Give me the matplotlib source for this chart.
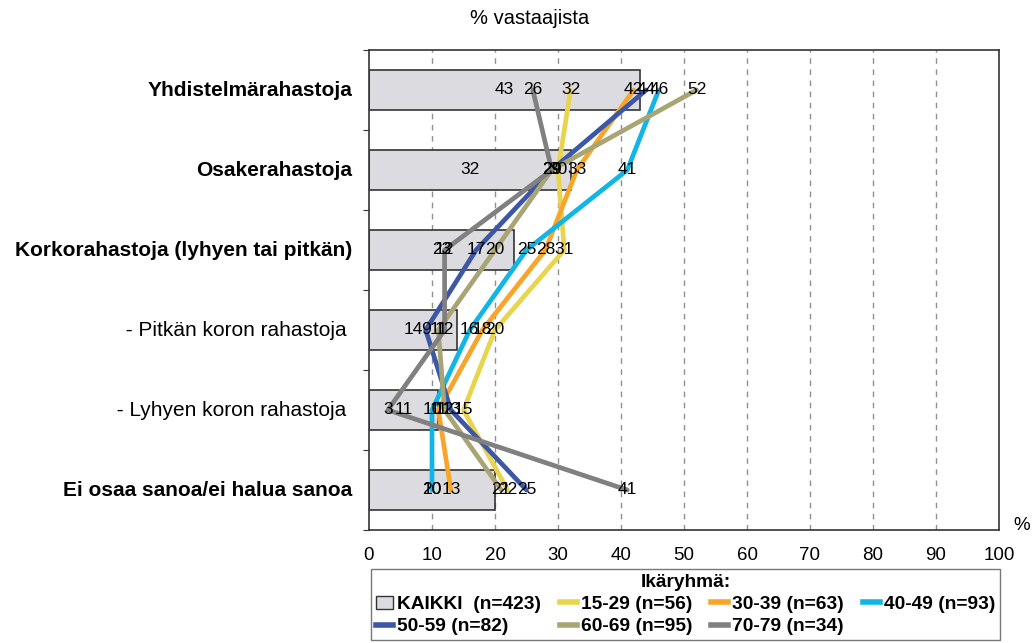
import matplotlib
matplotlib.use("Agg")
import matplotlib.pyplot as plt
from matplotlib.patches import Patch
from matplotlib.lines import Line2D

plt.rcParams['font.family'] = ['Liberation Sans', 'DejaVu Sans']

categories = ["Yhdistelmärahastoja", "Osakerahastoja", "Korkorahastoja (lyhyen tai pitkän)",
              " - Pitkän koron rahastoja", " - Lyhyen koron rahastoja", "Ei osaa sanoa/ei halua sanoa"]
bold_cat = [True, True, True, False, False, True]
kaikki = [43, 32, 23, 14, 11, 20]
s15_29 = [32, 30, 31, 20, 15, 22]
s30_39 = [42, 33, 28, 18, 11, 13]
s40_49 = [46, 41, 25, 16, 10, 10]
s50_59 = [44, 29, 17, 9, 13, 25]
s60_69 = [52, 29, 20, 11, 12, 21]
s70_79 = [26, 29, 12, 12, 3, 41]
series_names = ["15-29 (n=56)", "30-39 (n=63)", "40-49 (n=93)", "50-59 (n=82)", "60-69 (n=95)", "70-79 (n=34)"]
series_vals = [s15_29, s30_39, s40_49, s50_59, s60_69, s70_79]
series_colors = ["#E8D44D", "#F7A52B", "#12B5E3", "#3D57A7", "#A9A474", "#808080"]
kaikki_name = "KAIKKI  (n=423)"
xticks = list(range(0, 101, 10))

fig = plt.figure(figsize=(10.33, 6.43), dpi=100)
ax = fig.add_axes([369/1033, 1-530/643, 630/1033, 480/643])

y = list(range(len(categories)))
ax.barh(y, kaikki, height=0.5, color="#DCDCE0", edgecolor="#333333", linewidth=1.2, zorder=2)
for yi, v in zip(y, kaikki):
    ax.text(v/2, yi, str(v), ha="center", va="center", fontsize=12.5, zorder=6)

for vals, col in zip(series_vals, series_colors):
    ax.plot(vals, y, color=col, linewidth=3.4, zorder=3, solid_capstyle="round")
for vals in series_vals:
    for yi, v in zip(y, vals):
        ax.text(v, yi, str(v), ha="center", va="center", fontsize=12.5, zorder=6)

ax.set_xlim(0, 100)
ax.set_ylim(5.5, -0.5)
ax.set_xticks(xticks)
ax.set_xticklabels([str(t) for t in xticks], fontsize=13.5)
ax.tick_params(axis="x", length=0, pad=12)
for t in xticks[1:-1]:
    ax.axvline(t, color="#909090", linestyle=(0, (4, 4)), linewidth=1, zorder=1)

ax.set_yticks([i - 0.5 for i in range(len(categories) + 1)], minor=False)
ax.set_yticklabels([""] * (len(categories) + 1))
ax.tick_params(axis="y", length=4, direction="out", color="#333333")
for yi, (c, b) in enumerate(zip(categories, bold_cat)):
    ax.text(-2.7 if b else -3.6, yi, c, ha="right", va="center", fontsize=15,
            fontweight="bold" if b else "normal", transform=ax.transData)
for s in ax.spines.values():
    s.set_color("#333333")
    s.set_linewidth(1.2)

fig.text(530/1033, 1-18/643, "% vastaajista", ha="center", va="center", fontsize=14.5)
fig.text(1022/1033, 1-525/643, "%", ha="center", va="center", fontsize=13.5)

handles = [Patch(facecolor="#DCDCE0", edgecolor="#333333", label=kaikki_name)]
for n, c in zip(series_names, series_colors):
    handles.append(Line2D([0], [0], color=c, linewidth=4, label=n))
order = [0, 4, 1, 5, 2, 6, 3]
leg = fig.legend([handles[i] for i in order], [handles[i].get_label() for i in order],
                 loc="upper left", bbox_to_anchor=(371/1033, 1-665/643, 629/1033, 96/643),
                 mode="expand", ncol=4, title="Ikäryhmä:", frameon=True, fancybox=False,
                 prop={"weight": "bold", "size": 13.8}, handlelength=0.9, handletextpad=0.2,
                 borderpad=0.25, labelspacing=0.25, columnspacing=0.8, borderaxespad=0)
leg.get_title().set_fontweight("bold")
leg.get_title().set_fontsize(13.8)
leg.get_frame().set_edgecolor("#555555")
leg.get_frame().set_linewidth(1.0)

fig.savefig("out.png", dpi=100)
